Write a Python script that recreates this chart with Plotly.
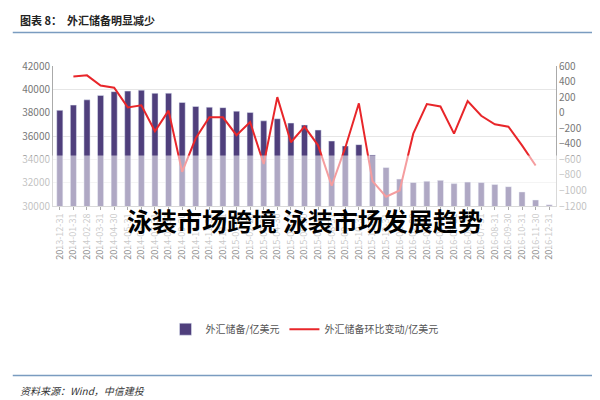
import plotly.graph_objects as go

months = ["2013-12-31", "2014-01-31", "2014-02-28", "2014-03-31", "2014-04-30", "2014-05-31",
          "2014-06-30", "2014-07-31", "2014-08-31", "2014-09-30", "2014-10-31", "2014-11-30",
          "2014-12-31", "2015-01-31", "2015-02-28", "2015-03-31", "2015-04-30", "2015-05-31",
          "2015-06-30", "2015-07-31", "2015-08-31", "2015-09-30", "2015-10-31", "2015-11-30",
          "2015-12-31", "2016-01-31", "2016-02-29", "2016-03-31", "2016-04-30", "2016-05-31",
          "2016-06-30", "2016-07-31", "2016-08-31", "2016-09-30", "2016-10-31", "2016-11-30",
          "2016-12-31"]
reserves = [38200, 38650, 39100, 39480, 39800, 39850, 39930, 39660, 39670, 38870, 38530, 38470,
            38430, 38130, 38010, 37300, 37480, 37110, 36940, 36510, 35570, 35140, 35260, 34380,
            33300, 32310, 32020, 32130, 32200, 31920, 32050, 32010, 31850, 31660, 31210, 30520,
            30110]
change = [None, 466, 480, 350, 320, 68, 94, -240, 26, -760, -330, -60, -60, -290, -120, -660,
          200, -380, -180, -420, -940, -450, 120, -880, -1080, -1000, -270, 110, 80, -270, 150,
          -40, -150, -180, -420, -680, None]

fig = go.Figure()
fig.add_trace(go.Bar(x=months, y=reserves, name="外汇储备/亿美元", marker_color="#4f3f7c", width=0.45))
fig.add_trace(go.Scatter(x=months, y=change, name="外汇储备环比变动/亿美元", yaxis="y2",
                         mode="lines", line=dict(color="#e8262a", width=2)))

fig.update_layout(
    width=600, height=400, paper_bgcolor="white", plot_bgcolor="white",
    margin=dict(l=45, r=52, t=58, b=202),
    font=dict(family="Noto Sans CJK SC", size=10, color="#666"),
    showlegend=True,
    xaxis=dict(type="category", tickangle=-90, tickfont=dict(size=9, color="#888"),
               showline=True, linecolor="#aaa", ticks="outside", ticklen=3),
    yaxis=dict(range=[30000, 42000], dtick=2000, tickformat="d", gridcolor="#e6e6e6", showline=True,
               linecolor="#aaa", tickfont=dict(size=10, color="#777")),
    yaxis2=dict(overlaying="y", side="right", range=[-1200, 600], dtick=200, showgrid=False,
                showline=True, linecolor="#aaa", tickfont=dict(size=10, color="#777")),
    legend=dict(orientation="h", x=0.5, xanchor="center", y=-0.88, yanchor="middle",
                font=dict(size=10, color="#555")),
    shapes=[
        dict(type="line", xref="paper", yref="paper", x0=-0.08, x1=1.1, y0=1.24, y1=1.24,
             line=dict(color="#7a9cc0", width=1.5)),
        dict(type="line", xref="paper", yref="paper", x0=-0.08, x1=1.1, y0=-1.21, y1=-1.21,
             line=dict(color="#7a9cc0", width=1.5)),
        dict(type="rect", xref="paper", yref="paper", x0=-0.08, x1=1.1, y0=-0.3, y1=0.36,
             fillcolor="white", opacity=0.55, line_width=0),
    ],
    annotations=[
        dict(text="<b>图表 8：  外汇储备明显减少</b>", xref="paper", yref="paper", x=-0.07, y=1.33,
             xanchor="left", yanchor="middle", showarrow=False, font=dict(size=11, color="#222")),
        dict(text="<i>资料来源：Wind，中信建投</i>", xref="paper", yref="paper", x=-0.07, y=-1.32,
             xanchor="left", yanchor="middle", showarrow=False, font=dict(size=10, color="#333")),
        dict(text="<b>泳装市场跨境 泳装市场发展趋势</b>", xref="paper", yref="paper", x=0.5, y=-0.1,
             xanchor="center", yanchor="middle", showarrow=False,
             font=dict(size=25, color="black", family="Noto Sans CJK SC")),
    ],
)

fig.write_html("out.html")
